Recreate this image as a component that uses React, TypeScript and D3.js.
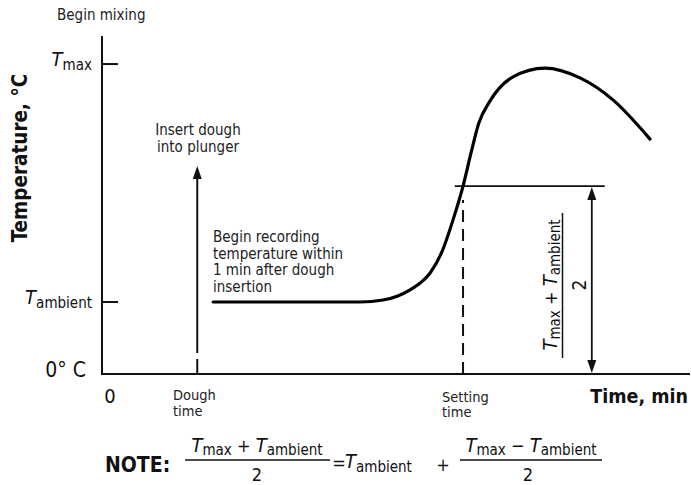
import React from "react";
import * as d3 from "d3";

// ---- data ----
const curveTime = [18.9, 43.9, 47.8, 50.3, 52.4, 54.1, 55.8, 57.8, 59.7, 61.4, 62.8, 64.1, 66.0, 69.9, 75.3, 81.3, 86.9, 93.2];
const curveTemp = [21.3, 21.3, 21.9, 23.1, 24.9, 26.9, 29.9, 36.1, 45.6, 55.6, 65.7, 74.3, 80.8, 87.9, 90.5, 87.6, 81.1, 69.5];
const tempTicks = [
  { key: "max", value: 91.7 },
  { key: "ambient", value: 21.3 },
];
const doughTime = 16.2;
const settingTime = 61.4;
const midLevel = 55.6;
const midLineStart = 60.0;
const midLineEnd = 85.5;
const midArrowTime = 83.3;
const recordingText = ["Begin recording", "temperature within", "1 min after dough", "insertion"];
const insertText = ["Insert dough", "into plunger"];

const W = 691;
const H = 485;
const FONT = "'DejaVu Sans Condensed', 'DejaVu Sans', sans-serif";

const x = d3.scaleLinear().domain([0, 100]).range([102, 690]);
const y = d3.scaleLinear().domain([0, 100]).range([374, 36]);

function TSub({ sub, x: tx, y: ty, anchor = "start", tSize = 20, subSize = 15, dy = 4 }: any) {
  return (
    <text x={tx} y={ty} textAnchor={anchor} fontFamily={FONT} fill="#111">
      <tspan fontStyle="italic" fontSize={tSize}>T</tspan>
      <tspan fontSize={subSize} dy={dy}>{sub}</tspan>
    </text>
  );
}

function arrowHead(px: number, py: number, dir: "up" | "down") {
  const len = 13;
  const hw = 4.5;
  const s = dir === "up" ? 1 : -1;
  return `M${px},${py} L${px - hw},${py + s * len} L${px + hw},${py + s * len} Z`;
}

export default function App() {
  const pts: [number, number][] = curveTime.map((t, i) => [x(t), y(curveTemp[i])]);
  const line = d3.line().curve(d3.curveMonotoneX)(pts) as string;

  const x0 = x(0);
  const y0 = y(0);
  const yTop = 36;
  const dx = x(doughTime);
  const sx = x(settingTime);
  const ax = x(midArrowTime);
  const ym = y(midLevel);

  return (
    <svg width={W} height={H} style={{ position: "absolute", left: 0, top: 0, background: "#fff" }}>
      {/* axes */}
      <line x1={x0} y1={yTop} x2={x0} y2={y0 + 1} stroke="#111" strokeWidth={2} />
      <line x1={x0} y1={y0} x2={x(100)} y2={y0} stroke="#111" strokeWidth={2} />
      {tempTicks.map((t) => (
        <line key={t.key} x1={x0} y1={y(t.value)} x2={x0 + 16} y2={y(t.value)} stroke="#111" strokeWidth={2} />
      ))}
      {tempTicks.map((t) => (
        <TSub key={t.key + "l"} sub={t.key} x={92} y={y(t.value) + 2} anchor="end" />
      ))}
      <text x={86} y={377} textAnchor="end" fontFamily={FONT} fontSize={21} fill="#111">0° C</text>
      <text x={110} y={403} textAnchor="middle" fontFamily={FONT} fontSize={20} fill="#111">0</text>
      <text x={57} y={20} fontFamily={FONT} fontSize={15} fill="#222">Begin mixing</text>

      {/* y title */}
      <text transform={`translate(27,158) rotate(-90)`} textAnchor="middle" fontFamily={FONT} fontSize={20.5} fontWeight="bold" fill="#111">
        Temperature, °C
      </text>

      {/* x labels */}
      <text fontFamily={FONT} fontSize={14.5} fill="#222">
        <tspan x={173} y={400}>Dough</tspan>
        <tspan x={173} y={415.5}>time</tspan>
      </text>
      <text fontFamily={FONT} fontSize={14.5} fill="#222">
        <tspan x={442} y={402}>Setting</tspan>
        <tspan x={442} y={417}>time</tspan>
      </text>
      <text x={688} y={403} textAnchor="end" fontFamily={FONT} fontSize={19.5} fontWeight="bold" fill="#111">Time, min</text>

      {/* dough insertion arrow */}
      <line x1={dx} y1={y0} x2={dx} y2={359} stroke="#111" strokeWidth={2} />
      <line x1={dx} y1={353} x2={dx} y2={175} stroke="#111" strokeWidth={2} />
      <path d={arrowHead(dx, 166, "up")} fill="#111" />
      <text fontFamily={FONT} fontSize={15} fill="#222" textAnchor="middle">
        {insertText.map((s, i) => (
          <tspan key={i} x={198} y={135 + i * 17}>{s}</tspan>
        ))}
      </text>

      {/* recording text */}
      <text fontFamily={FONT} fontSize={15} fill="#222">
        {recordingText.map((s, i) => (
          <tspan key={i} x={213} y={242 + i * 16.6}>{s}</tspan>
        ))}
      </text>

      {/* setting time dashed */}
      <line x1={sx} y1={y0} x2={sx} y2={200} stroke="#111" strokeWidth={2} strokeDasharray="12,7" />

      {/* mid level line */}
      <line x1={x(midLineStart)} y1={ym} x2={x(midLineEnd)} y2={ym} stroke="#111" strokeWidth={1.8} />

      {/* double arrow */}
      <line x1={ax} y1={ym + 10} x2={ax} y2={y0 - 10} stroke="#111" strokeWidth={1.8} />
      <path d={arrowHead(ax, ym + 1, "up")} fill="#111" />
      <path d={arrowHead(ax, y0 - 1, "down")} fill="#111" />

      {/* rotated fraction */}
      <g transform={`translate(561,285) rotate(-90)`}>
        <text x={0} y={-4} textAnchor="middle" fontFamily={FONT} fill="#111">
          <tspan fontStyle="italic" fontSize={20}>T</tspan>
          <tspan fontSize={15} dy={3}>max</tspan>
          <tspan fontSize={18} dy={-3}> + </tspan>
          <tspan fontStyle="italic" fontSize={20}>T</tspan>
          <tspan fontSize={15} dy={3}>ambient</tspan>
        </text>
        <line x1={-73} y1={1.5} x2={72} y2={1.5} stroke="#111" strokeWidth={1.5} />
        <text x={0} y={25} textAnchor="middle" fontFamily={FONT} fontSize={19} fill="#111">2</text>
      </g>

      {/* curve */}
      <path d={line} fill="none" stroke="#000" strokeWidth={3.2} strokeLinecap="round" />

      {/* NOTE formula */}
      <text x={105} y={472} fontFamily={FONT} fontSize={21} fontWeight="bold" fill="#111">NOTE:</text>
      <text x={257} y={452} textAnchor="middle" fontFamily={FONT} fill="#111">
        <tspan fontStyle="italic" fontSize={20}>T</tspan>
        <tspan fontSize={15} dy={3}>max</tspan>
        <tspan fontSize={18} dy={-3}> + </tspan>
        <tspan fontStyle="italic" fontSize={20}>T</tspan>
        <tspan fontSize={15} dy={3}>ambient</tspan>
      </text>
      <line x1={185} y1={460} x2={330} y2={460} stroke="#111" strokeWidth={1.5} />
      <text x={257} y={481} textAnchor="middle" fontFamily={FONT} fontSize={18} fill="#111">2</text>
      <text x={339} y={469} textAnchor="middle" fontFamily={FONT} fontSize={18} fill="#111">=</text>
      <TSub sub="ambient" x={345} y={468} />
      <text x={443} y={471} textAnchor="middle" fontFamily={FONT} fontSize={18} fill="#111">+</text>
      <text x={531} y={452} textAnchor="middle" fontFamily={FONT} fill="#111">
        <tspan fontStyle="italic" fontSize={20}>T</tspan>
        <tspan fontSize={15} dy={3}>max</tspan>
        <tspan fontSize={18} dy={-3}> − </tspan>
        <tspan fontStyle="italic" fontSize={20}>T</tspan>
        <tspan fontSize={15} dy={3}>ambient</tspan>
      </text>
      <line x1={460} y1={460} x2={602} y2={460} stroke="#111" strokeWidth={1.5} />
      <text x={528} y={481} textAnchor="middle" fontFamily={FONT} fontSize={18} fill="#111">2</text>
    </svg>
  );
}
